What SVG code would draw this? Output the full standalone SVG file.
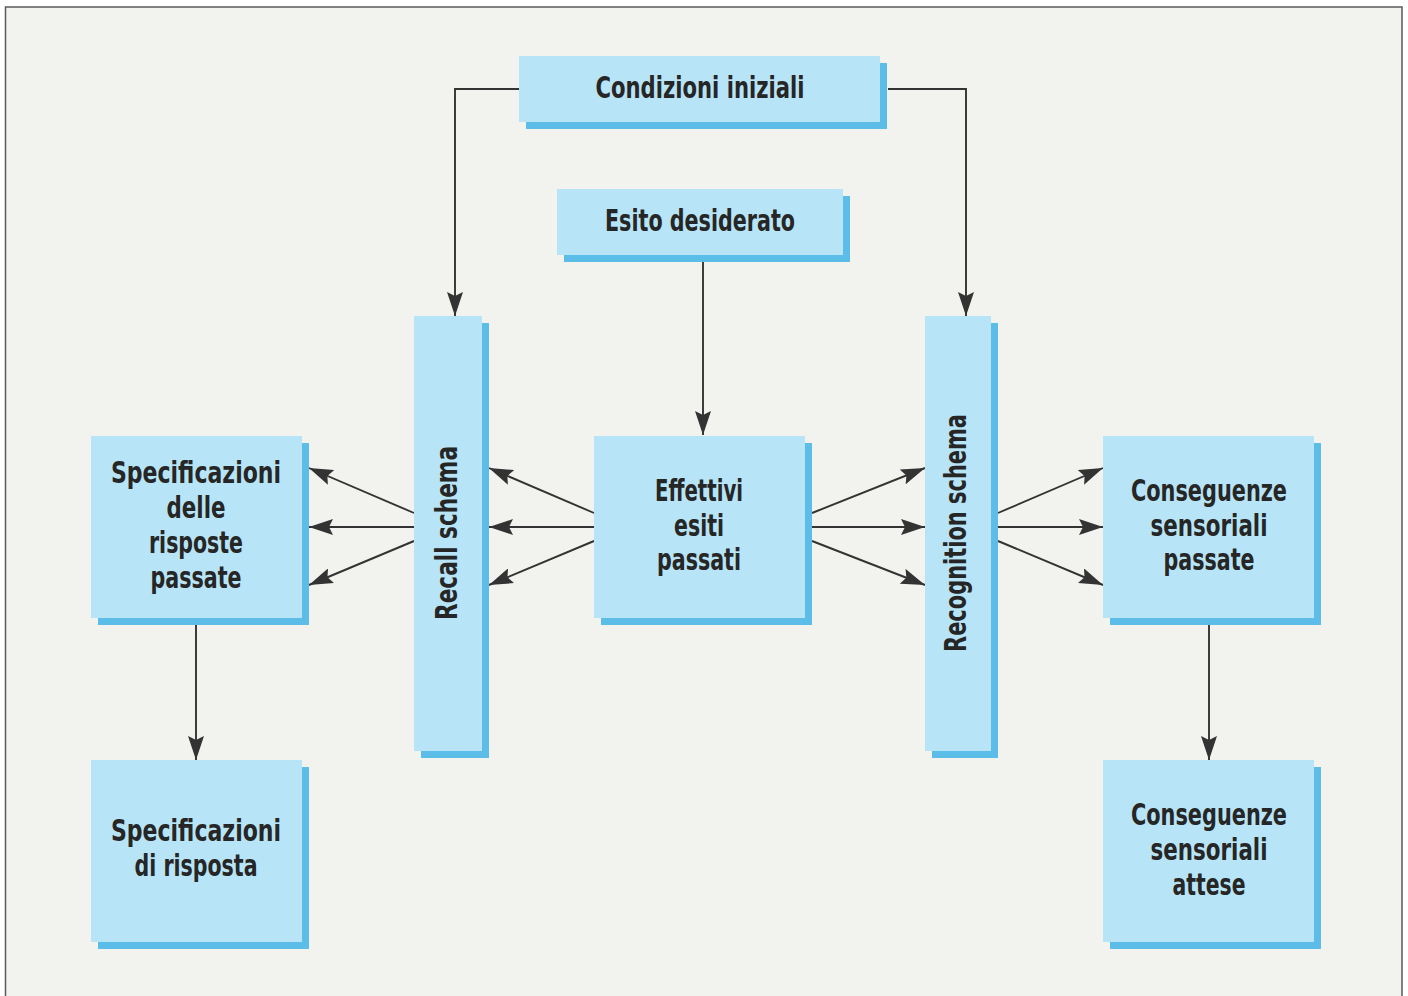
<svg xmlns="http://www.w3.org/2000/svg" width="1408" height="996" viewBox="0 0 1408 996">
<style>
.bg{fill:#f2f2ef}
.frame{fill:none;stroke:#5a5a5a;stroke-width:1.5}
.sh{fill:#5cbde9}
.bx{fill:#b7e5f7}
.t{font-family:"Liberation Sans Narrow","DejaVu Sans Condensed","Liberation Sans",Arial,sans-serif;font-weight:bold;font-size:30px;fill:#262626;text-anchor:middle}
.c{fill:none;stroke:#333;stroke-width:1.9;marker-end:url(#ah)}
</style>
<defs>
<marker id="ah" markerUnits="userSpaceOnUse" markerWidth="24" markerHeight="16" refX="24" refY="8" orient="auto" viewBox="0 0 24 16">
<path d="M0,0 L24,8 L0,16 L4,8 Z" fill="#333"/>
</marker>
</defs>
<rect x="0" y="0" width="1408" height="996" fill="#ffffff"/>
<rect class="bg" x="5.5" y="7" width="1396.5" height="992"/>
<rect class="frame" x="5.5" y="7" width="1396.5" height="992"/>

<g id="connectors">
<path class="c" d="M519,89 H455 V316"/>
<path class="c" d="M888,89 H966 V316"/>
<path class="c" d="M703,262 V435"/>
<path class="c" d="M414,513 L309,468"/>
<path class="c" d="M414,527 L309,527"/>
<path class="c" d="M414,541 L309,585"/>
<path class="c" d="M594,513 L489,468"/>
<path class="c" d="M594,527 L489,527"/>
<path class="c" d="M594,541 L489,585"/>
<path class="c" d="M812,513 L925,468"/>
<path class="c" d="M812,527 L925,527"/>
<path class="c" d="M812,541 L925,585"/>
<path class="c" d="M998,513 L1103,468"/>
<path class="c" d="M998,527 L1103,527"/>
<path class="c" d="M998,541 L1103,585"/>
<path class="c" d="M196,625 V760"/>
<path class="c" d="M1209,625 V760"/>
</g>

<g id="condizioni-iniziali">
<rect class="sh" x="526" y="63" width="361" height="66"/>
<rect class="bx" x="519" y="56" width="361" height="66"/>
<text class="t" x="700" y="98" textLength="209" lengthAdjust="spacingAndGlyphs">Condizioni iniziali</text>
</g>

<g id="esito-desiderato">
<rect class="sh" x="564" y="196" width="286" height="66"/>
<rect class="bx" x="557" y="189" width="286" height="66"/>
<text class="t" x="700" y="231" textLength="190" lengthAdjust="spacingAndGlyphs">Esito desiderato</text>
</g>

<g id="recall-schema">
<rect class="sh" x="421" y="323" width="68" height="435"/>
<rect class="bx" x="414" y="316" width="68" height="435"/>
<text class="t" transform="translate(457,533) rotate(-90)" x="0" y="0" textLength="174" lengthAdjust="spacingAndGlyphs">Recall schema</text>
</g>

<g id="recognition-schema">
<rect class="sh" x="932" y="323" width="66" height="435"/>
<rect class="bx" x="925" y="316" width="66" height="435"/>
<text class="t" transform="translate(966,533) rotate(-90)" x="0" y="0" textLength="238" lengthAdjust="spacingAndGlyphs">Recognition schema</text>
</g>

<g id="specificazioni-risposte-passate">
<rect class="sh" x="98" y="443" width="211" height="182"/>
<rect class="bx" x="91" y="436" width="211" height="182"/>
<text class="t" x="196" y="483" textLength="170" lengthAdjust="spacingAndGlyphs">Specificazioni</text>
<text class="t" x="196" y="518" textLength="59" lengthAdjust="spacingAndGlyphs">delle</text>
<text class="t" x="196" y="553" textLength="94" lengthAdjust="spacingAndGlyphs">risposte</text>
<text class="t" x="196" y="588" textLength="91" lengthAdjust="spacingAndGlyphs">passate</text>
</g>

<g id="effettivi-esiti-passati">
<rect class="sh" x="601" y="443" width="211" height="182"/>
<rect class="bx" x="594" y="436" width="211" height="182"/>
<text class="t" x="699" y="501" textLength="88" lengthAdjust="spacingAndGlyphs">Effettivi</text>
<text class="t" x="699" y="536" textLength="50" lengthAdjust="spacingAndGlyphs">esiti</text>
<text class="t" x="699" y="570" textLength="84" lengthAdjust="spacingAndGlyphs">passati</text>
</g>

<g id="conseguenze-sensoriali-passate">
<rect class="sh" x="1110" y="443" width="211" height="182"/>
<rect class="bx" x="1103" y="436" width="211" height="182"/>
<text class="t" x="1209" y="501" textLength="156" lengthAdjust="spacingAndGlyphs">Conseguenze</text>
<text class="t" x="1209" y="536" textLength="117" lengthAdjust="spacingAndGlyphs">sensoriali</text>
<text class="t" x="1209" y="570" textLength="91" lengthAdjust="spacingAndGlyphs">passate</text>
</g>

<g id="specificazioni-di-risposta">
<rect class="sh" x="98" y="767" width="211" height="182"/>
<rect class="bx" x="91" y="760" width="211" height="182"/>
<text class="t" x="196" y="841" textLength="170" lengthAdjust="spacingAndGlyphs">Specificazioni</text>
<text class="t" x="196" y="876" textLength="123" lengthAdjust="spacingAndGlyphs">di risposta</text>
</g>

<g id="conseguenze-sensoriali-attese">
<rect class="sh" x="1110" y="767" width="211" height="182"/>
<rect class="bx" x="1103" y="760" width="211" height="182"/>
<text class="t" x="1209" y="825" textLength="156" lengthAdjust="spacingAndGlyphs">Conseguenze</text>
<text class="t" x="1209" y="860" textLength="117" lengthAdjust="spacingAndGlyphs">sensoriali</text>
<text class="t" x="1209" y="895" textLength="73" lengthAdjust="spacingAndGlyphs">attese</text>
</g>
</svg>
